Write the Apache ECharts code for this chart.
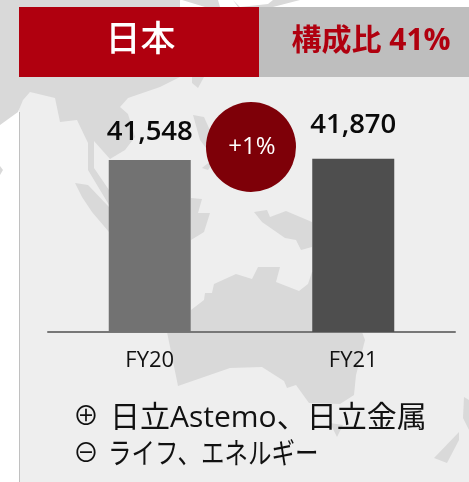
<!DOCTYPE html>
<html><head><meta charset="utf-8">
<style>html,body{margin:0;padding:0;background:#fff}#c{width:469px;height:482px}</style>
<script src="https://cdn.jsdelivr.net/npm/echarts@6/dist/echarts.min.js"></script>
</head><body><div id="c"></div>
<script>
const categories = ['FY20', 'FY21'];
const values = [41548, 41870];
const valueLabels = ['41,548', '41,870'];
const barColors = ['#727272', '#4e4e4e'];
const labelGaps = [14, 19];
const headerTitle = '日本';
const headerShare = '構成比 41%';
const changeText = '+1%';
const plusLine = '日立Astemo、日立金属';
const minusLine = 'ライフ、エネルギー';

const latin = '"Open Sans","Noto Sans CJK JP",sans-serif';
const cjk = '"Open Sans","Noto Sans CJK JP",sans-serif';
const MAP = '#d9d9d9';

const mapShapes = [
  [[0,7],[19,7],[182,0],[0,0]],
  [[182,0],[205,7],[220,7],[218,0],[233,0],[238,7],[273,7],[300,0],[273,0],[268,4],[240,7],[233,0]],
  [[0,125],[18,112],[23,100],[30,92],[55,98],[60,122],[77,120],[88,143],[88,170],[109,205],[109,190],[94,168],[94,141],[110,159],[125,150],[135,137],[128,114],[120,107],[128,98],[160,87],[180,77],[180,0],[0,0]],
  [[192,77],[204,77],[198,88],[192,83]],
  [[193,115],[204,117],[212,135],[212,160],[202,168],[208,170],[215,160],[200,140]],
  [[75,183],[88,185],[109,207],[109,232],[92,212],[82,197]],
  [[191,198],[202,199],[198,213],[210,213],[204,232],[191,240]],
  [[254,212],[267,210],[270,217],[286,211],[312,222],[312,247],[301,250],[296,240],[285,238],[262,222]],
  [[191,310],[204,300],[205,293],[212,293],[214,284],[236,274],[252,279],[258,267],[280,267],[276,282],[299,291],[308,284],[312,272],[362,272],[362,332],[365,340],[356,375],[354,395],[340,404],[309,403],[296,385],[287,388],[284,381],[262,367],[230,368],[178,386],[167,332],[191,332]],
  [[330,423],[343,425],[337,437]],
  [[434,458],[447,463],[459,440],[459,432]],
  [[464,397],[469,400],[469,430],[463,418]]
];

const graphics = [
  {type:'rect',z:-20,silent:true,shape:{x:19,y:77,width:450,height:405},style:{fill:'#eeeeee'}},
  ...mapShapes.map(p=>({type:'polygon',z:-10,silent:true,shape:{points:p},style:{fill:MAP}})),
  {type:'rect',z:-5,silent:true,shape:{x:0,y:125,width:19,height:357},style:{fill:'#ffffff'}},
  {type:'polygon',z:-5,silent:true,shape:{points:[[0,166],[3,170],[0,175]]},style:{fill:MAP}},
  {type:'rect',z:-4,silent:true,shape:{x:19,y:112,width:1,height:370},style:{fill:'#c0c0c0'}},
  {type:'rect',z:5,silent:true,shape:{x:19,y:7,width:240,height:70},style:{fill:'#b0000f'}},
  {type:'rect',z:5,silent:true,shape:{x:259,y:7,width:210,height:70},style:{fill:'#bebebe'}},
  {type:'text',z:6,silent:true,style:{x:140.5,y:41,text:headerTitle,fill:'#fff',font:'500 35px '+cjk,textAlign:'center',textVerticalAlign:'middle'}},
  {type:'text',z:6,silent:true,style:{x:371,y:41,text:headerShare,fill:'#b0000f',font:'700 30px '+cjk,textAlign:'center',textVerticalAlign:'middle'}},
  {type:'circle',z:6,silent:true,shape:{cx:251,cy:147,r:45},style:{fill:'#7e0008'}},
  {type:'text',z:7,silent:true,style:{x:252,y:147,text:changeText,fill:'#fff',font:'400 24px '+latin,textAlign:'center',textVerticalAlign:'middle'}},
  {type:'text',z:7,silent:true,style:{x:86,y:418,text:'⊕',fill:'#111',font:'400 26px '+cjk,textAlign:'center',textVerticalAlign:'middle'}},
  {type:'text',z:7,silent:true,style:{x:110,y:418,text:plusLine,fill:'#111',font:'400 30px '+cjk,textAlign:'left',textVerticalAlign:'middle'}},
  {type:'text',z:7,silent:true,style:{x:86,y:455,text:'⊖',fill:'#111',font:'400 26px '+cjk,textAlign:'center',textVerticalAlign:'middle'}},
  {type:'text',z:7,silent:true,x:108,y:456,scaleX:0.81,style:{x:0,y:0,text:minusLine,fill:'#111',font:'400 29px '+cjk,textAlign:'left',textVerticalAlign:'middle'}}
];

const chart = echarts.init(document.getElementById('c'), null, {renderer:'canvas'});
chart.setOption({
  animation:false,
  backgroundColor:'#ffffff',
  graphic:graphics,
  grid:{left:48,right:14,top:125,bottom:150},
  xAxis:{type:'category',data:categories,
    axisLine:{lineStyle:{color:'#777777',width:2}},axisTick:{show:false},
    axisLabel:{color:'#111',fontSize:22,fontFamily:'"Open Sans",sans-serif',margin:18}},
  yAxis:{type:'value',min:0,max:50000,show:false,splitLine:{show:false}},
  series:[{type:'bar',barWidth:82,
    data:values.map((v,i)=>({value:v,itemStyle:{color:barColors[i]},
      label:{show:true,position:'top',distance:labelGaps[i],formatter:valueLabels[i],
        color:'#0a0a0a',fontSize:27.5,fontWeight:600,fontFamily:'"Open Sans",sans-serif'}}))}]
});
</script></body></html>
